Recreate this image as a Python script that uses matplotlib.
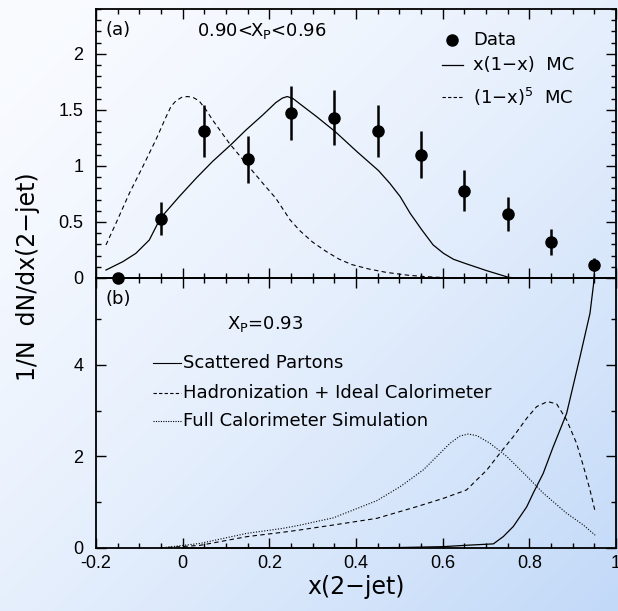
import numpy as np
import matplotlib
matplotlib.use("Agg")
import matplotlib.pyplot as plt
from matplotlib.colors import to_rgb
from matplotlib.ticker import MultipleLocator, FixedLocator

# panel (a): measured distribution for 0.90 < X_P < 0.96
data_x = [-0.15, -0.05, 0.05, 0.15, 0.25, 0.35, 0.45, 0.55, 0.65, 0.75, 0.85, 0.95]
data_y = [0.0, 0.53, 1.31, 1.06, 1.47, 1.43, 1.31, 1.10, 0.78, 0.57, 0.32, 0.12]
data_err = [0.0, 0.15, 0.23, 0.21, 0.24, 0.245, 0.23, 0.21, 0.18, 0.155, 0.115, 0.06]

mc_lin_x = [-0.177, -0.138, -0.108, -0.077, -0.0515, -0.008, 0.031, 0.069, 0.1115,
            0.146, 0.185, 0.215, 0.23, 0.2415, 0.255, 0.271, 0.309, 0.352, 0.402,
            0.452, 0.478, 0.502, 0.525, 0.552, 0.578, 0.602, 0.625, 0.652, 0.702,
            0.752, 0.771]
mc_lin_y = [0.071, 0.146, 0.22, 0.339, 0.533, 0.726, 0.89, 1.04, 1.19,
            1.32, 1.455, 1.565, 1.605, 1.619, 1.6, 1.552, 1.44, 1.306, 1.128,
            0.958, 0.845, 0.726, 0.577, 0.429, 0.295, 0.22, 0.167, 0.13, 0.065,
            0.006, 0.0]

mc_pow_x = [-0.177, -0.154, -0.123, -0.092, -0.062, -0.038, -0.027, -0.015, -0.0015,
            0.0115, 0.0246, 0.038, 0.054, 0.069, 0.108, 0.146, 0.185, 0.215, 0.248,
            0.271, 0.3, 0.33, 0.36, 0.39, 0.43, 0.47, 0.52, 0.56, 0.6, 0.63]
mc_pow_y = [0.295, 0.488, 0.756, 0.994, 1.232, 1.44, 1.53, 1.583, 1.613,
            1.619, 1.61, 1.58, 1.5, 1.41, 1.2, 1.024, 0.845, 0.711, 0.518,
            0.42, 0.32, 0.24, 0.17, 0.12, 0.08, 0.05, 0.025, 0.012, 0.004, 0.0]

# panel (b): X_P = 0.93
parton_x = [0.0, 0.3, 0.5, 0.602, 0.655, 0.717, 0.74, 0.763, 0.794, 0.809, 0.832,
            0.855, 0.886, 0.917, 0.94, 0.948, 0.9516]
parton_y = [0.0, 0.0, 0.01, 0.03, 0.06, 0.09, 0.25, 0.47, 0.9, 1.2, 1.63,
            2.21, 2.94, 4.18, 5.13, 5.75, 6.23]

hadron_x = [-0.052, 0.04, 0.148, 0.232, 0.271, 0.348, 0.448, 0.54, 0.602, 0.655,
            0.702, 0.732, 0.763, 0.794, 0.817, 0.842, 0.863, 0.886, 0.909, 0.925,
            0.94, 0.952]
hadron_y = [0.0, 0.058, 0.248, 0.345, 0.395, 0.503, 0.648, 0.903, 1.086, 1.268,
            1.705, 2.07, 2.433, 2.835, 3.09, 3.2, 3.148, 2.8, 2.288, 1.78,
            1.268, 0.79]

fullsim_x = [-0.052, 0.04, 0.148, 0.232, 0.271, 0.348, 0.448, 0.502, 0.555, 0.586,
             0.617, 0.64, 0.659, 0.679, 0.709, 0.748, 0.794, 0.832, 0.886, 0.925,
             0.952]
fullsim_y = [0.0, 0.1, 0.32, 0.43, 0.5, 0.66, 1.034, 1.34, 1.705, 1.996,
             2.288, 2.448, 2.49, 2.455, 2.29, 2.0, 1.57, 1.2, 0.76, 0.5,
             0.28]

LABEL_FONT = "DejaVu Sans"
TICK_FONT = "Liberation Sans"

fig = plt.figure(figsize=(6.18, 6.11), dpi=100)

# diagonal pale-blue background behind everything
bg = fig.add_axes([0, 0, 1, 1], zorder=-10)
gx, gy = np.meshgrid(np.linspace(0, 1, 300), np.linspace(0, 1, 300))
t = ((gx + gy) / 2) ** 1.5
c0 = np.array(to_rgb("#f9fbff"))
c1 = np.array(to_rgb("#c2d9f8"))
img = c0[None, None, :] * (1 - t[..., None]) + c1[None, None, :] * t[..., None]
bg.imshow(img, extent=[0, 1, 0, 1], aspect="auto", origin="upper")
bg.axis("off")

left, width = 96 / 618, 520 / 618
ax_a = fig.add_axes([left, 1 - 278 / 611, width, 269 / 611])
ax_b = fig.add_axes([left, 1 - 548 / 611, width, 270 / 611], sharex=ax_a)

for ax in (ax_a, ax_b):
    ax.set_facecolor("none")
    for s in ax.spines.values():
        s.set_linewidth(1.3)
    ax.tick_params(which="both", direction="in", top=True, right=True,
                   width=1.0, labelsize=13, pad=9)
    ax.tick_params(which="major", length=7)
    ax.tick_params(which="minor", length=3.5)

ax_a.set_xlim(-0.2, 1.0)
ax_a.xaxis.set_major_locator(MultipleLocator(0.2))
ax_a.xaxis.set_minor_locator(MultipleLocator(0.05))

ax_a.set_ylim(0, 2.4)
ax_a.yaxis.set_major_locator(FixedLocator([0, 0.5, 1, 1.5, 2]))
ax_a.yaxis.set_minor_locator(MultipleLocator(0.1))
ax_a.set_yticklabels(["0", "0.5", "1", "1.5", "2"], fontfamily=TICK_FONT)
ax_a.tick_params(axis="x", labelbottom=False)

ax_b.set_ylim(0, 5.9)
ax_b.yaxis.set_major_locator(FixedLocator([0, 2, 4]))
ax_b.yaxis.set_minor_locator(MultipleLocator(1))
ax_b.set_yticklabels(["0", "2", "4"], fontfamily=TICK_FONT)
ax_b.set_xticks([-0.2, 0, 0.2, 0.4, 0.6, 0.8, 1.0])
ax_b.set_xticklabels(["-0.2", "0", "0.2", "0.4", "0.6", "0.8", "1"], fontfamily=TICK_FONT)
ax_b.tick_params(axis="x", pad=5)

# panel (a) curves and data
ax_a.plot(mc_lin_x, mc_lin_y, color="black", lw=0.9)
ax_a.plot(mc_pow_x, mc_pow_y, color="black", lw=0.8, ls=(0, (4, 3)))
ax_a.errorbar(data_x, data_y, yerr=data_err, fmt="o", color="black", ms=8,
              elinewidth=1.8, capsize=0, clip_on=False, zorder=5)

ax_a.text(0.018, 0.955, "(a)", transform=ax_a.transAxes, fontsize=13,
          family=LABEL_FONT, va="top")
ax_a.text(0.195, 0.955, r"0.90<X$_\mathrm{P}$<0.96", transform=ax_a.transAxes,
          fontsize=13, family=LABEL_FONT, va="top")

# hand-placed legend for panel (a)
lx0, lx1, tx = 0.665, 0.705, 0.725
ax_a.plot([(lx0 + lx1) / 2], [0.883], "o", color="black", ms=8, transform=ax_a.transAxes)
ax_a.plot([lx0, lx1], [0.79, 0.79], color="black", lw=0.9, transform=ax_a.transAxes)
ax_a.plot([lx0, lx1], [0.673, 0.673], color="black", lw=0.8, ls=(0, (3, 2)),
          transform=ax_a.transAxes)
ax_a.text(tx, 0.883, "Data", transform=ax_a.transAxes, fontsize=13,
          family=LABEL_FONT, va="center")
ax_a.text(tx, 0.79, "x(1\u2212x)  MC", transform=ax_a.transAxes, fontsize=13,
          family=LABEL_FONT, va="center")
ax_a.text(tx, 0.673, r"(1$-$x)$^5$  MC", transform=ax_a.transAxes, fontsize=13,
          family=LABEL_FONT, va="center")

# panel (b) curves
ax_b.plot(parton_x, parton_y, color="black", lw=0.9, clip_on=False)
ax_b.plot(hadron_x, hadron_y, color="black", lw=0.8, ls=(0, (4, 3)))
ax_b.plot(fullsim_x, fullsim_y, color="black", lw=0.8, ls=(0, (1, 1.5)))

ax_b.text(0.018, 0.955, "(b)", transform=ax_b.transAxes, fontsize=13,
          family=LABEL_FONT, va="top")
ax_b.text(0.252, 0.83, r"X$_\mathrm{P}$=0.93", transform=ax_b.transAxes,
          fontsize=13, family=LABEL_FONT, va="center")

bx0, bx1, btx = 57 / 520, 85 / 520, 87 / 520
rows = [(0.685, "Scattered Partons", "-"),
        (0.575, "Hadronization + Ideal Calorimeter", (0, (3, 2))),
        (0.47, "Full Calorimeter Simulation", (0, (1, 1.2)))]
for yy, label, style in rows:
    ax_b.plot([bx0, bx1], [yy, yy], color="black", lw=0.8, ls=style,
              transform=ax_b.transAxes)
    ax_b.text(btx, yy, label, transform=ax_b.transAxes, fontsize=13,
              family=LABEL_FONT, va="center")

ax_b.set_xlabel("x(2\u2212jet)", fontsize=17, family=LABEL_FONT, labelpad=2)
fig.text(28 / 618, 1 - 277 / 611, "1/N  dN/dx(2\u2212jet)", rotation=90,
         fontsize=17, family=LABEL_FONT, ha="center", va="center")

fig.savefig("out.png", dpi=100)
